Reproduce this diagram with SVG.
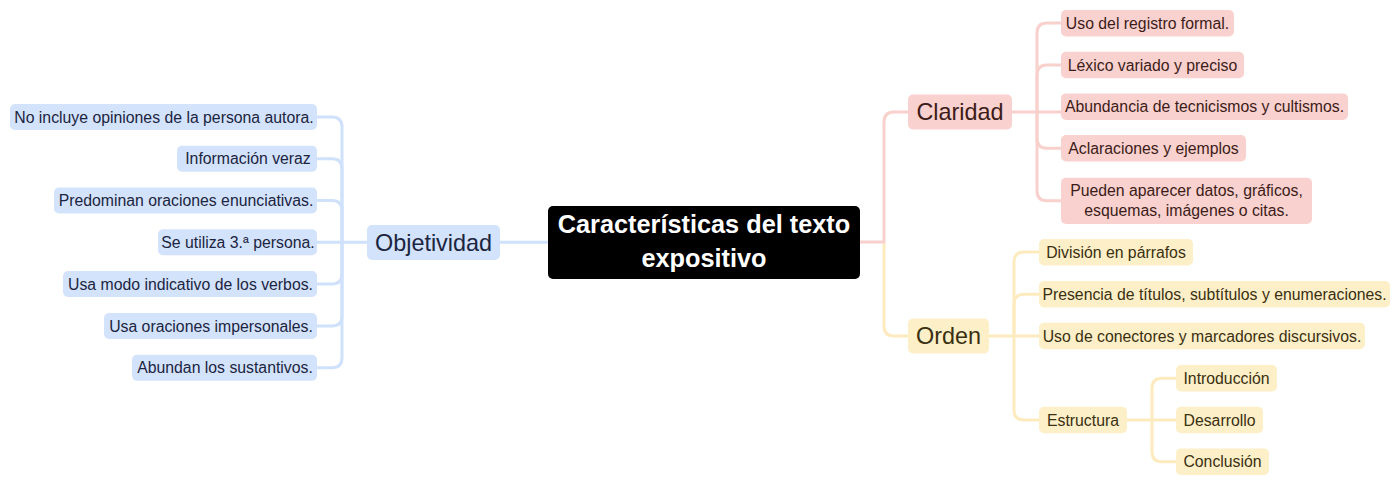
<svg xmlns="http://www.w3.org/2000/svg" width="1400" height="485" viewBox="0 0 1400 485">
<style>
text{font-family:"Liberation Sans",Arial,sans-serif;text-anchor:middle}
.leaf{font-size:15.8px}
.main{font-size:23.4px}
.b rect{fill:#d3e3fc}
.b text{fill:#1c2540}
.r rect{fill:#f9d1ce}
.r text{fill:#3c1c19}
.y rect{fill:#fdefc7}
.y text{fill:#3a3012}
.cb{stroke:#cfe1fb}
.cr{stroke:#f8d0cc}
.cy{stroke:#fdebbf}
#connectors path{fill:none;stroke-width:3;stroke-linecap:round}
</style>
<rect width="1400" height="485" fill="#ffffff"/>
<g id="connectors">
<path class="cb" d="M548,242.3 H500"/>
<path class="cb" d="M367,242.3 H317"/>
<path class="cb" d="M342,242.3 V127 Q342,117 332,117 H317"/>
<path class="cb" d="M342,242.3 V168.8 Q342,158.8 332,158.8 H317"/>
<path class="cb" d="M342,242.3 V210.5 Q342,200.5 332,200.5 H317"/>
<path class="cb" d="M342,242.3 V274 Q342,284 332,284 H317"/>
<path class="cb" d="M342,242.3 V316 Q342,326 332,326 H317"/>
<path class="cb" d="M342,242.3 V357.8 Q342,367.8 332,367.8 H317"/>
<path class="cy" d="M884,244 V326 Q884,336 894,336 H908"/>
<path class="cr" d="M860,242 H884 V122 Q884,112 894,112 H908"/>
<path class="cr" d="M1012,112 H1061"/>
<path class="cr" d="M1037,112 V33 Q1037,23 1047,23 H1061"/>
<path class="cr" d="M1037,112 V75 Q1037,65 1047,65 H1061"/>
<path class="cr" d="M1037,112 V138.3 Q1037,148.3 1047,148.3 H1061"/>
<path class="cr" d="M1037,112 V190.8 Q1037,200.8 1047,200.8 H1061"/>
<path class="cy" d="M989,336 H1039"/>
<path class="cy" d="M1014,336 V262 Q1014,252 1024,252 H1039"/>
<path class="cy" d="M1014,336 V304.3 Q1014,294.3 1024,294.3 H1039"/>
<path class="cy" d="M1014,336 V410 Q1014,420 1024,420 H1039"/>
<path class="cy" d="M1127,420 H1176"/>
<path class="cy" d="M1152,420 V388.3 Q1152,378.3 1162,378.3 H1176"/>
<path class="cy" d="M1152,420 V451.7 Q1152,461.7 1162,461.7 H1176"/>
</g>
<g id="center">
<rect x="548" y="206" width="312" height="73" rx="5" fill="#000000"/>
<text x="704" y="233" font-size="25.3" font-weight="bold" fill="#ffffff">Características del texto</text>
<text x="704" y="267" font-size="25.3" font-weight="bold" fill="#ffffff">expositivo</text>
</g>
<g id="objetividad" class="b">
<rect x="367" y="225" width="133" height="35" rx="5"/>
<text class="main" x="433.5" y="250.5">Objetividad</text>
</g>
<g id="obj1" class="b"><rect x="10" y="104" width="307" height="26" rx="5"/><text class="leaf" x="164" y="122.6">No incluye opiniones de la persona autora.</text></g>
<g id="obj2" class="b"><rect x="177" y="145.8" width="140" height="26" rx="5"/><text class="leaf" x="248" y="164.4">Información veraz</text></g>
<g id="obj3" class="b"><rect x="54" y="187.5" width="263" height="26" rx="5"/><text class="leaf" x="186" y="206.1">Predominan oraciones enunciativas.</text></g>
<g id="obj4" class="b"><rect x="158" y="229.3" width="159" height="26" rx="5"/><text class="leaf" x="238" y="247.9">Se utiliza 3.ª persona.</text></g>
<g id="obj5" class="b"><rect x="63" y="271" width="254" height="26" rx="5"/><text class="leaf" x="190.5" y="289.6">Usa modo indicativo de los verbos.</text></g>
<g id="obj6" class="b"><rect x="104" y="313" width="213" height="26" rx="5"/><text class="leaf" x="211" y="331.6">Usa oraciones impersonales.</text></g>
<g id="obj7" class="b"><rect x="132" y="354.8" width="185" height="26" rx="5"/><text class="leaf" x="225" y="373.4">Abundan los sustantivos.</text></g>
<g id="claridad" class="r">
<rect x="908" y="94.5" width="104" height="35" rx="5"/>
<text class="main" x="960" y="120">Claridad</text>
</g>
<g id="cla1" class="r"><rect x="1061" y="10" width="173" height="26.5" rx="5"/><text class="leaf" x="1147.5" y="28.6">Uso del registro formal.</text></g>
<g id="cla2" class="r"><rect x="1061" y="51.8" width="183" height="26.5" rx="5"/><text class="leaf" x="1152.5" y="70.6">Léxico variado y preciso</text></g>
<g id="cla3" class="r"><rect x="1061" y="93.4" width="287" height="26.5" rx="5"/><text class="leaf" x="1204.5" y="112.2">Abundancia de tecnicismos y cultismos.</text></g>
<g id="cla4" class="r"><rect x="1061" y="135" width="185" height="26.5" rx="5"/><text class="leaf" x="1153.5" y="153.9">Aclaraciones y ejemplos</text></g>
<g id="cla5" class="r"><rect x="1061" y="177.7" width="251" height="46.3" rx="5"/><text class="leaf" x="1186.5" y="196">Pueden aparecer datos, gráficos,</text><text class="leaf" x="1186.5" y="216">esquemas, imágenes o citas.</text></g>
<g id="orden" class="y">
<rect x="908" y="318.5" width="81" height="35" rx="5"/>
<text class="main" x="948.5" y="344">Orden</text>
</g>
<g id="ord1" class="y"><rect x="1039" y="239" width="154" height="26.5" rx="5"/><text class="leaf" x="1116" y="257.6">División en párrafos</text></g>
<g id="ord2" class="y"><rect x="1039" y="281" width="351" height="26.5" rx="5"/><text class="leaf" x="1214.5" y="299.9">Presencia de títulos, subtítulos y enumeraciones.</text></g>
<g id="ord3" class="y"><rect x="1039" y="322.7" width="326" height="26.5" rx="5"/><text class="leaf" x="1202" y="341.6">Uso de conectores y marcadores discursivos.</text></g>
<g id="ord4" class="y"><rect x="1039" y="406.7" width="88" height="26.5" rx="5"/><text class="leaf" x="1083" y="425.6">Estructura</text></g>
<g id="est1" class="y"><rect x="1176" y="365" width="101" height="26.5" rx="5"/><text class="leaf" x="1226.5" y="383.9">Introducción</text></g>
<g id="est2" class="y"><rect x="1176" y="406.7" width="87" height="26.5" rx="5"/><text class="leaf" x="1219.5" y="425.6">Desarrollo</text></g>
<g id="est3" class="y"><rect x="1176" y="448.4" width="93" height="26.5" rx="5"/><text class="leaf" x="1222.5" y="467.3">Conclusión</text></g>
</svg>
